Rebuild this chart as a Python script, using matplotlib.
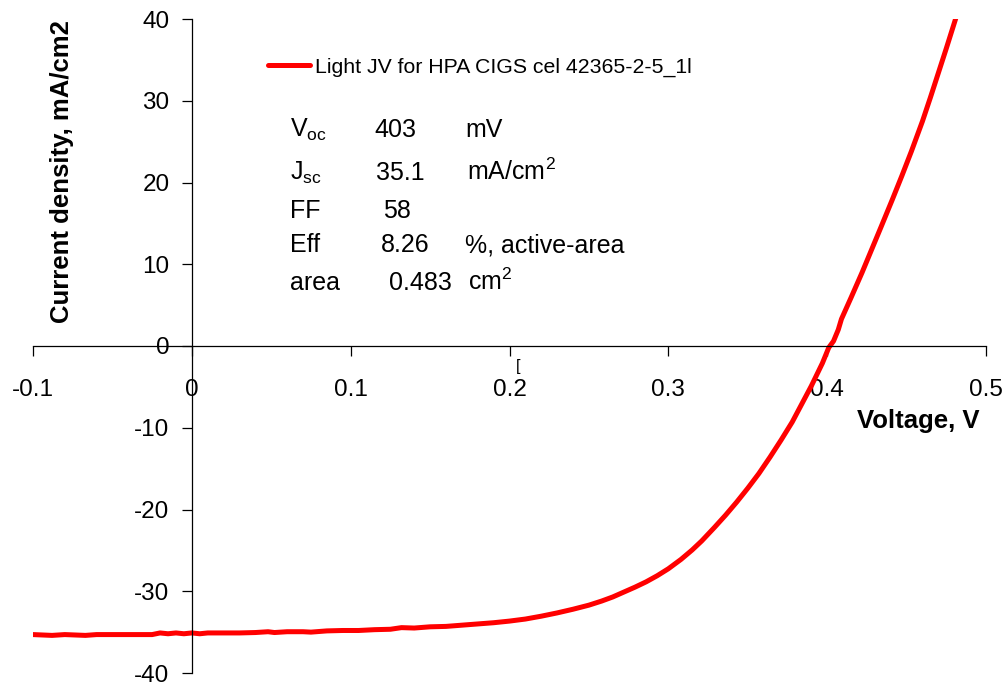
import matplotlib
matplotlib.use('Agg')
import matplotlib.pyplot as plt

plt.rcParams['font.family'] = ['Liberation Sans', 'DejaVu Sans']
plt.rcParams['axes.unicode_minus'] = False

# JV curve (V in volts, J in mA/cm2)
voltage = [-0.100, -0.088, -0.080, -0.067, -0.060, -0.040, -0.025, -0.020, -0.015, -0.010,
           -0.005, 0.000, 0.005, 0.010, 0.020, 0.030, 0.040, 0.048, 0.052, 0.060,
           0.070, 0.075, 0.085, 0.095, 0.105, 0.115, 0.125, 0.132, 0.140, 0.150,
           0.160, 0.170, 0.180, 0.190, 0.200, 0.210, 0.220, 0.230, 0.240, 0.250,
           0.258, 0.265, 0.272, 0.279, 0.286, 0.293, 0.300, 0.308, 0.315, 0.321,
           0.329, 0.336, 0.343, 0.350, 0.357, 0.364, 0.371, 0.378, 0.384, 0.390,
           0.397, 0.401, 0.404, 0.407, 0.409, 0.415, 0.422, 0.428, 0.434, 0.441,
           0.447, 0.453, 0.460, 0.465, 0.470, 0.475, 0.481]
current = [-35.3, -35.4, -35.3, -35.4, -35.3, -35.3, -35.3, -35.1, -35.2, -35.1,
           -35.2, -35.1, -35.2, -35.1, -35.1, -35.1, -35.05, -34.95, -35.05, -34.95,
           -34.95, -35.0, -34.85, -34.8, -34.8, -34.7, -34.65, -34.45, -34.5, -34.35,
           -34.3, -34.15, -34.0, -33.85, -33.65, -33.4, -33.05, -32.65, -32.2, -31.7,
           -31.2, -30.7, -30.1, -29.5, -28.85, -28.1, -27.25, -26.1, -24.95, -23.85,
           -22.2, -20.7, -19.1, -17.4, -15.6, -13.6, -11.5, -9.3, -7.1, -4.9,
           -2.1, -0.2, 0.6, 2.0, 3.3, 5.9, 9.0, 11.8, 14.6, 17.9,
           20.8, 23.8, 27.5, 30.4, 33.4, 36.4, 40.1]

series_label = 'Light JV for HPA CIGS cel 42365-2-5_1l'
xticks = [-0.1, 0, 0.1, 0.2, 0.3, 0.4, 0.5]
xtick_labels = ['-0.1', '0', '0.1', '0.2', '0.3', '0.4', '0.5']
yticks = [-40, -30, -20, -10, 0, 10, 20, 30, 40]

# cell parameters box
stat_names = ['V$_\\mathregular{oc}$', 'J$_\\mathregular{sc}$', 'FF', 'Eff', 'area']
stat_values = ['403', '35.1', '58', '8.26', '0.483']
stat_units = ['mV', 'mA/cm$^\\mathregular{2}$', '', '%, active-area', 'cm$^\\mathregular{2}$']

W, H = 1003, 686
fig = plt.figure(figsize=(W / 100, H / 100), dpi=100)
ax = fig.add_axes([33 / W, 1 - 673 / H, (986 - 33) / W, (673 - 19) / H])

ax.plot(voltage, current, color='#ff0000', lw=3.6, label=series_label,
        solid_capstyle='round', solid_joinstyle='round')
ax.set_xlim(-0.1, 0.5)
ax.set_ylim(-40, 40)
ax.set_xticks(xticks)
ax.set_xticklabels(xtick_labels)
ax.set_yticks(yticks)

for s in ['top', 'right']:
    ax.spines[s].set_visible(False)
ax.spines['left'].set_position(('data', 0))
ax.spines['bottom'].set_position(('data', 0))
for s in ['left', 'bottom']:
    ax.spines[s].set_linewidth(0.9)
ax.tick_params(axis='x', direction='out', length=7, width=0.9, pad=17, labelsize=17.5)
ax.tick_params(axis='y', direction='out', length=7, width=0.9, pad=9, labelsize=17.5)

def px(x, y):
    return x / W, 1 - y / H

fig.text(*px(918, 421), 'Voltage, V', fontsize=18.5, fontweight='bold', ha='center', va='center')
fig.text(*px(62, 172), 'Current density, mA/cm2', fontsize=18.5, fontweight='bold',
         rotation=90, ha='center', va='center')

ax.legend(loc='center left', bbox_to_anchor=px(268, 67), bbox_transform=fig.transFigure,
          frameon=False, fontsize=15.3, handlelength=2.0, handletextpad=0.2,
          borderpad=0, borderaxespad=0)

baselines = [137, 180, 218, 252, 290]
value_x = [374, 376, 383, 381, 389]
unit_x = [465, 467, 465, 465, 468]
for i in range(len(stat_names)):
    fig.text(*px(290, baselines[i]), stat_names[i], fontsize=18, va='baseline')
    fig.text(*px(value_x[i], baselines[i]), stat_values[i], fontsize=18, va='baseline')
    if stat_units[i]:
        fig.text(*px(unit_x[i], baselines[i]), stat_units[i], fontsize=18, va='baseline')

fig.text(*px(518, 366), '[', fontsize=12, ha='center', va='center')

fig.savefig('out.png', dpi=100)
